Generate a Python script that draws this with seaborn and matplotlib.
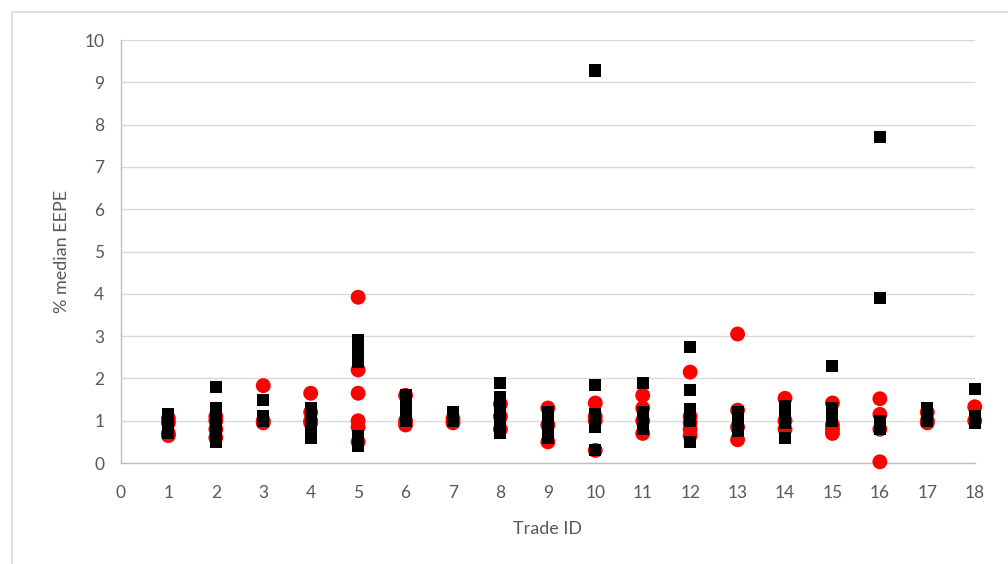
import matplotlib
matplotlib.use("Agg")
import matplotlib.pyplot as plt
import seaborn as sns
import pandas as pd
from matplotlib.patches import Rectangle

# Values per trade ID (1..18)
trade_ids = list(range(1, 19))
red_values = [
    [0.65, 0.7, 0.95, 1.05],          # 1
    [0.6, 0.8, 1.0, 1.1],             # 2
    [1.83, 1.0, 0.95],                # 3
    [1.65, 1.2, 1.0, 0.95],           # 4
    [3.92, 2.2, 1.65, 1.0, 0.85, 0.5],# 5
    [1.6, 1.0, 0.9],                  # 6
    [1.05, 0.95],                     # 7
    [1.4, 1.1, 0.8],                  # 8
    [1.3, 0.9, 0.5],                  # 9
    [1.42, 1.1, 1.0, 0.3],            # 10
    [1.6, 1.3, 1.0, 0.7],             # 11
    [2.15, 1.1, 0.95, 0.8, 0.65],     # 12
    [3.05, 1.25, 0.85, 0.55],         # 13
    [1.53, 1.0, 0.8],                 # 14
    [1.42, 0.9, 0.8, 0.7],            # 15
    [1.52, 1.15, 0.8, 0.03],          # 16
    [1.2, 1.0, 0.95],                 # 17
    [1.33, 1.0],                      # 18
]
black_values = [
    [1.15, 1.05, 0.95, 0.85, 0.75, 0.7],                     # 1
    [1.8, 1.3, 1.2, 1.1, 1.0, 0.9, 0.8, 0.7, 0.6, 0.5],      # 2
    [1.5, 1.1, 1.0],                                         # 3
    [1.3, 1.15, 1.0, 0.9, 0.8, 0.7, 0.6],                    # 4
    [2.9, 2.8, 2.7, 2.6, 2.5, 2.4, 0.65, 0.55, 0.4],         # 5
    [1.6, 1.4, 1.2, 1.1, 1.0],                               # 6
    [1.2, 1.1, 1.0],                                         # 7
    [1.9, 1.55, 1.4, 1.25, 1.1, 1.0, 0.9, 0.8, 0.7],         # 8
    [1.2, 1.1, 1.0, 0.9, 0.8, 0.7, 0.6],                     # 9
    [9.28, 1.85, 1.15, 1.05, 0.95, 0.85, 0.3],               # 10
    [1.9, 1.2, 1.1, 1.0, 0.9, 0.8],                          # 11
    [2.75, 1.72, 1.28, 1.0, 0.5],                            # 12
    [1.2, 1.1, 1.0, 0.9, 0.75],                              # 13
    [1.35, 1.25, 1.15, 1.05, 0.95, 0.6],                     # 14
    [2.3, 1.3, 1.2, 1.1, 1.0],                               # 15
    [7.7, 3.9, 1.0, 0.9, 0.8],                               # 16
    [1.3, 1.2, 1.1, 1.0],                                    # 17
    [1.75, 1.1, 1.0, 0.95],                                  # 18
]
x_ticks = list(range(0, 19))
y_ticks = list(range(0, 11))

red_df = pd.DataFrame([(t, v) for t, vs in zip(trade_ids, red_values) for v in vs],
                      columns=["Trade ID", "value"])
black_df = pd.DataFrame([(t, v) for t, vs in zip(trade_ids, black_values) for v in vs],
                        columns=["Trade ID", "value"])

sns.set_theme(style="white")
plt.rcParams['font.family'] = ['Lato', 'DejaVu Sans']

gray = "#595959"
fig = plt.figure(figsize=(10.08, 5.64), dpi=100)
ax = fig.add_axes([0.120, 0.179, 0.847, 0.750])

sns.scatterplot(data=red_df, x="Trade ID", y="value", ax=ax, marker="o", s=115,
                color="#ff0000", edgecolor="none", linewidth=0, zorder=3,
                clip_on=False)
sns.scatterplot(data=black_df, x="Trade ID", y="value", ax=ax, marker="s", s=75,
                color="#000000", edgecolor="none", linewidth=0, zorder=4,
                clip_on=False)

ax.set_xlim(0, 18)
ax.set_ylim(0, 10)
ax.set_xticks(x_ticks)
ax.set_yticks(y_ticks)
ax.yaxis.grid(True, color="#d9d9d9", linewidth=1)
ax.xaxis.grid(False)
ax.set_axisbelow(True)
for side in ["top", "right"]:
    ax.spines[side].set_visible(False)
for side in ["left", "bottom"]:
    ax.spines[side].set_color("#bfbfbf")
    ax.spines[side].set_linewidth(1)
ax.tick_params(axis="both", which="major", direction="out", length=6, width=1,
               color="#bfbfbf", labelcolor=gray, labelsize=12.5)
ax.tick_params(axis="y", pad=6)
ax.tick_params(axis="x", length=7, pad=9)
ax.set_xlabel("Trade ID", color=gray, fontsize=13, labelpad=14)
ax.set_ylabel("% median EEPE", color=gray, fontsize=13, labelpad=10)

# chart area border
fig.patches.append(Rectangle((12 / 1008, -0.05), 1.2, 1 - 12 / 564 + 0.05,
                             transform=fig.transFigure, fill=False,
                             edgecolor="#d9d9d9", linewidth=1.2, zorder=0))

fig.savefig("out.png", dpi=100)
